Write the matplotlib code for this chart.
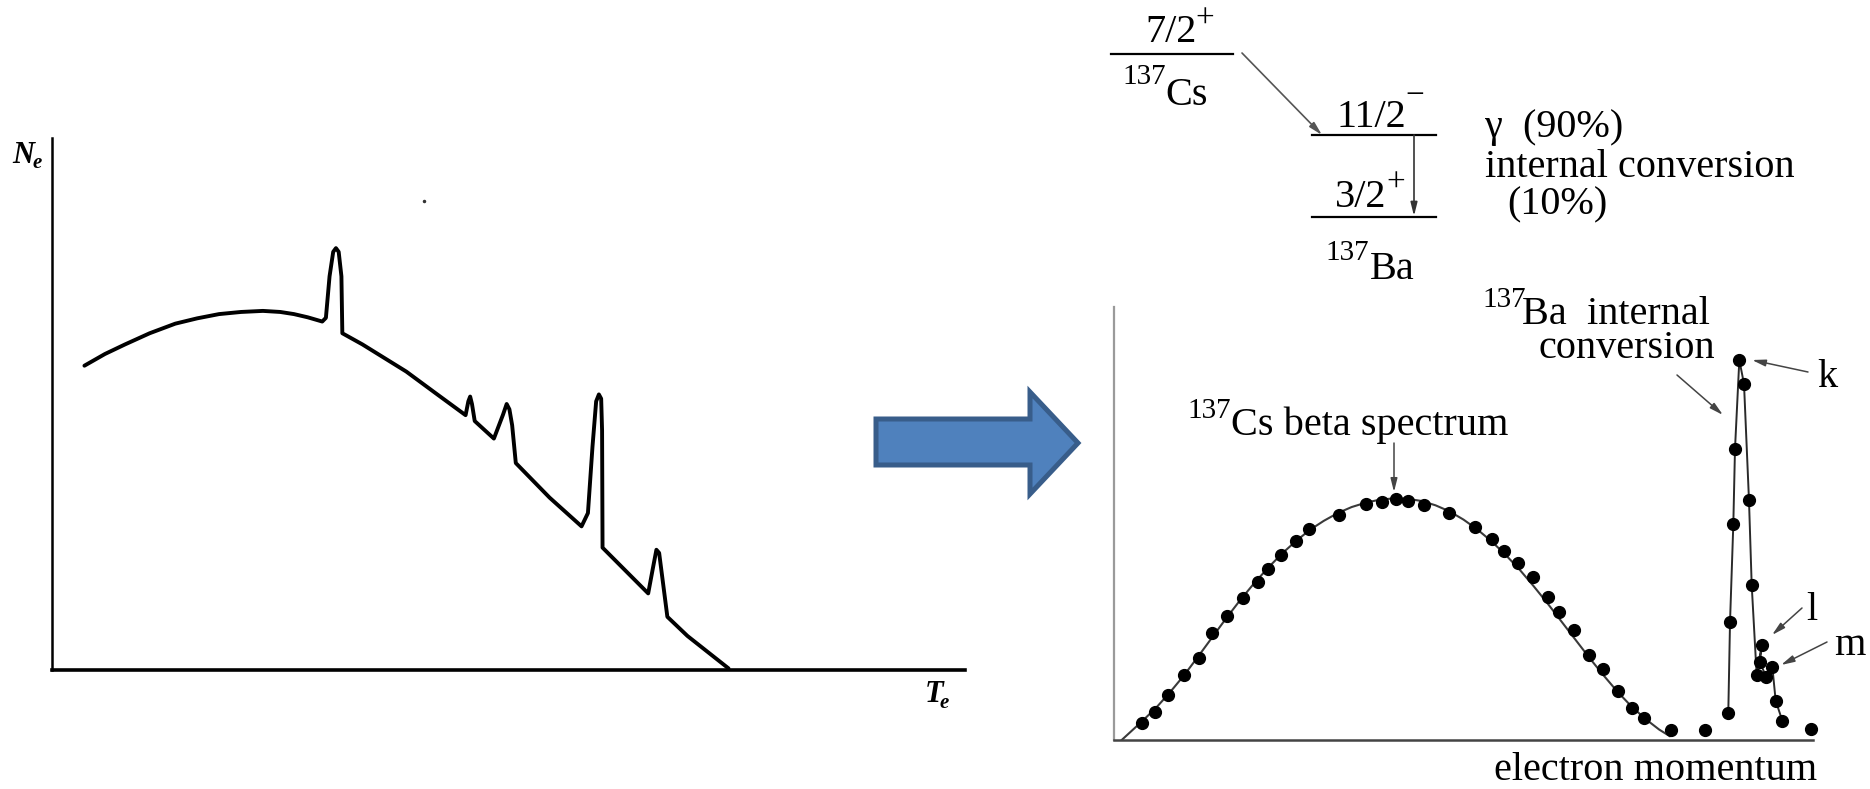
import matplotlib
matplotlib.use("Agg")
import matplotlib.pyplot as plt
from matplotlib.patches import Polygon

SERIF = ["Liberation Serif", "DejaVu Serif"]

# left panel: electron spectrum (arbitrary units, axis = 0..100)
left_energy = [3.55, 5.8, 8.0, 10.7, 13.5, 15.9, 18.3, 20.7, 23.1, 25.0,
               26.5, 28.0, 29.6, 30.0, 30.4, 30.8, 31.1, 31.4, 31.7, 31.8,
               34.0, 38.8, 42.2, 45.3, 45.6, 45.8, 46.0, 46.3, 48.4, 49.4,
               49.8, 50.1, 50.4, 50.8, 54.5, 58.0, 58.7, 59.2, 59.6, 59.9,
               60.15, 60.25, 60.3, 62.8, 65.3, 65.8, 66.2, 66.5, 66.8, 67.4,
               69.6, 74.1]
left_counts = [57.2, 59.4, 61.2, 63.3, 65.1, 66.1, 66.9, 67.3, 67.5, 67.3,
               66.9, 66.3, 65.5, 66.2, 74.0, 78.6, 79.3, 78.6, 74.0, 63.3,
               61.2, 56.1, 51.8, 47.9, 50.5, 51.4, 50.0, 46.8, 43.5, 48.0,
               50.0, 49.0, 46.0, 38.9, 32.4, 27.0, 29.5, 42.0, 50.5, 51.8,
               51.0, 45.0, 23.0, 18.7, 14.4, 19.0, 22.6, 22.0, 18.0, 10.0,
               6.4, 0.3]

# right panel: measured points of the 137Cs beta spectrum
beta_p = [3.99, 5.89, 7.73, 9.97, 12.09, 14.06, 16.18, 18.44, 20.54, 21.96,
          23.93, 26.05, 27.95, 32.17, 36.05, 38.31, 40.29, 42.05, 44.36, 47.90,
          51.70, 54.02, 55.78, 57.75, 60.01, 62.13, 63.68, 65.86, 67.98, 70.01,
          72.13, 74.11, 75.87, 79.74, 84.55, 99.67]
beta_n = [3.86, 6.54, 10.39, 15.01, 18.87, 24.78, 28.64, 32.72, 36.56, 39.42,
          42.73, 46.03, 48.66, 51.96, 54.50, 55.03, 55.59, 55.20, 54.27, 52.49,
          49.26, 46.35, 43.72, 40.81, 37.57, 33.09, 29.63, 25.40, 19.63, 16.33,
          11.39, 7.32, 5.01, 2.31, 2.31, 2.54]

# smooth fit through the beta spectrum
fit_p = [1.1, 4, 6, 8, 10, 12, 14, 16, 18, 20, 22, 24, 26, 28, 30, 32, 34, 36,
         38, 40, 42, 44, 46, 48, 50, 52, 54, 56, 58, 60, 62, 64, 66, 68, 70,
         72, 74, 76, 78, 79.5]
fit_n = [0, 4.3, 7.4, 11.0, 14.9, 19.2, 23.6, 28.0, 32.2, 36.1, 39.7, 43.0,
         45.9, 48.5, 50.6, 52.4, 53.8, 54.8, 55.5, 55.8, 55.7, 55.2, 54.2, 52.8,
         50.9, 48.6, 45.9, 42.8, 39.4, 35.6, 31.6, 27.4, 23.2, 19.0, 15.0, 11.2,
         7.8, 4.9, 2.4, 0.9]

# internal conversion lines (k, l, m), in drawing order
ic_p = [87.88, 88.13, 88.60, 88.84, 89.46, 90.13, 90.84, 91.23, 91.94, 92.66,
        92.42, 93.28, 94.18, 94.66, 95.61]
ic_n = [6.17, 27.32, 49.82, 67.21, 87.76, 82.22, 55.43, 35.80, 15.01, 21.94,
        17.94, 14.62, 16.93, 9.08, 4.46]

W, H = 1870, 789
fig = plt.figure(figsize=(W / 100, H / 100), dpi=100)
fig.patch.set_facecolor("white")

# overlay in pixel coordinates for diagram, arrows and labels
ov = fig.add_axes([0, 0, 1, 1])
ov.set_xlim(0, W)
ov.set_ylim(H, 0)
ov.axis("off")


def px_axes(x0, x1, y_top, y_bot):
    return fig.add_axes([x0 / W, (H - y_bot) / H, (x1 - x0) / W, (y_bot - y_top) / H])


# ---- left panel
axl = px_axes(52, 965, 138, 670)
axl.patch.set_alpha(0)
axl.plot(left_energy, left_counts, color="black", lw=2.8,
         solid_joinstyle="round", solid_capstyle="round")
axl.plot([40.7], [88.2], "o", color="#333333", ms=1.5)
axl.set_xlim(0, 100)
axl.set_ylim(0, 100)
for s in ["top", "right"]:
    axl.spines[s].set_visible(False)
axl.spines["left"].set_linewidth(1.8)
axl.spines["bottom"].set_linewidth(2.6)
axl.set_xticks([])
axl.set_yticks([])

ov.text(12, 163, "N", family=SERIF, style="italic", weight="bold", fontsize=22, va="baseline")
ov.text(33, 168, "e", family=SERIF, style="italic", weight="bold", fontsize=15, va="baseline")
ov.text(925, 702, "T", family=SERIF, style="italic", weight="bold", fontsize=22, va="baseline")
ov.text(940, 708, "e", family=SERIF, style="italic", weight="bold", fontsize=15, va="baseline")

# ---- blue arrow
arrow = Polygon([(876, 419), (1030, 419), (1030, 392), (1078, 443), (1030, 494),
                 (1030, 465), (876, 465)], closed=True,
                facecolor="#4F81BD", edgecolor="#385D8A", lw=3.6, joinstyle="miter")
ov.add_patch(arrow)

# ---- right panel
axr = px_axes(1114, 1813, 307, 740)
axr.patch.set_alpha(0)
axr.plot(fit_p, fit_n, color="#3a3a3a", lw=1.5)
axr.plot(ic_p, ic_n, color="#2a2a2a", lw=1.4)
axr.plot(beta_p, beta_n, "o", color="black", ms=8.5, clip_on=False)
axr.plot(ic_p, ic_n, "o", color="black", ms=8.5, clip_on=False)
axr.set_xlim(0, 100)
axr.set_ylim(0, 100)
for s in ["top", "right"]:
    axr.spines[s].set_visible(False)
axr.spines["left"].set_color("#9a9a9a")
axr.spines["left"].set_linewidth(1.6)
axr.spines["bottom"].set_color("#444444")
axr.spines["bottom"].set_linewidth(1.8)
axr.set_xticks([])
axr.set_yticks([])

BIG, SUP = 29, 21
txt = dict(family=SERIF, color="black", va="baseline", ha="left")

# level scheme
ov.text(1145, 42, "7/2", fontsize=BIG, **txt)
ov.text(1195, 28, "+", fontsize=24, **txt)
ov.plot([1111, 1233], [54, 54], color="black", lw=1.6)
ov.text(1122, 84, "137", fontsize=SUP, **txt)
ov.text(1165, 105, "Cs", fontsize=BIG, **txt)
ov.annotate("", xy=(1322, 135), xytext=(1242, 53),
            arrowprops=dict(arrowstyle="-|>,head_length=0.8,head_width=0.2",
                            color="#555555", lw=1.2, shrinkA=0, shrinkB=0))
ov.text(1337, 127, "11/2", fontsize=BIG, **txt)
ov.text(1405, 104, "\u2212", fontsize=24, **txt)
ov.plot([1312, 1436], [135, 135], color="black", lw=1.6)
ov.annotate("", xy=(1414, 216), xytext=(1414, 135),
            arrowprops=dict(arrowstyle="-|>,head_length=0.8,head_width=0.2",
                            color="#333333", lw=1.2, shrinkA=0, shrinkB=0))
ov.text(1335, 207, "3/2", fontsize=BIG, **txt)
ov.text(1386, 192, "+", fontsize=24, **txt)
ov.plot([1312, 1436], [217, 217], color="black", lw=1.6)
ov.text(1325, 260, "137", fontsize=SUP, **txt)
ov.text(1370, 279, "Ba", fontsize=BIG, **txt)

ov.text(1485, 137, "\u03b3  (90%)", fontsize=BIG, **txt)
ov.text(1485, 177, "internal conversion", fontsize=BIG, **txt)
ov.text(1507, 214, "(10%)", fontsize=BIG, **txt)

# spectrum annotations
ov.text(1482, 307, "137", fontsize=SUP, **txt)
ov.text(1522, 324, "Ba  internal", fontsize=BIG, **txt)
ov.text(1538, 358, "conversion", fontsize=BIG, **txt)
ov.text(1187, 418, "137", fontsize=SUP, **txt)
ov.text(1231, 435, "Cs beta spectrum", fontsize=BIG, **txt)
ov.text(1817, 387, "k", fontsize=BIG, **txt)
ov.text(1806, 620, "l", fontsize=BIG, **txt)
ov.text(1834, 655, "m", fontsize=BIG, **txt)
ov.text(1494, 780, "electron momentum", fontsize=BIG, **txt)

thin = dict(arrowstyle="-|>,head_length=0.8,head_width=0.2",
            color="#444444", lw=1.1, shrinkA=0, shrinkB=0)
for (x0, y0), (x1, y1) in [((1394, 443), (1394, 492)),
                           ((1677, 375), (1723, 415)),
                           ((1808, 372), (1752, 360)),
                           ((1802, 608), (1772, 635)),
                           ((1827, 642), (1781, 665))]:
    ov.annotate("", xy=(x1, y1), xytext=(x0, y0), arrowprops=thin)

fig.savefig("out.png", dpi=100)
